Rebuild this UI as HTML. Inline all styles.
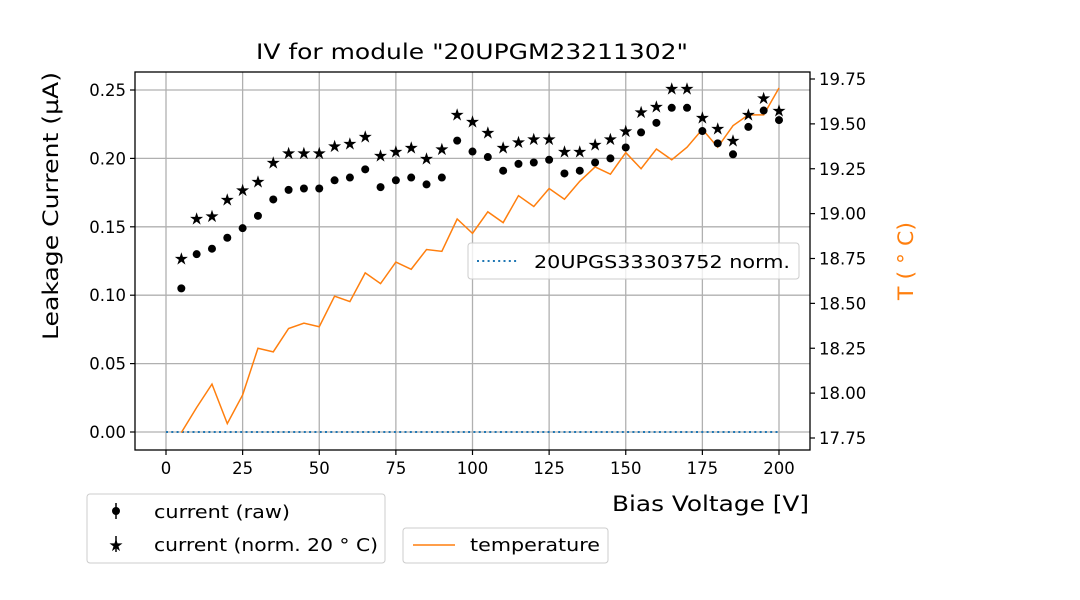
<!DOCTYPE html>
<html><head><meta charset="utf-8"><style>
body{margin:0;background:#fff;}
svg{display:block;font-family:"DejaVu Sans","Liberation Sans",sans-serif;}
</style></head><body>
<svg id="chart" width="1080" height="600" viewBox="0 0 1080 600">
<rect width="1080" height="600" fill="#fff"/>
<g id="grid"></g>
<g id="marks"></g>
<rect x="135" y="72" width="675" height="378" fill="none" stroke="#000" stroke-width="1.3"/>
<g id="axes"></g>
<text x="472" y="59" font-size="21" text-anchor="middle" textLength="432" lengthAdjust="spacingAndGlyphs">IV for module "20UPGM23211302"</text>
<text x="0" y="0" font-size="21" text-anchor="middle" textLength="268" lengthAdjust="spacingAndGlyphs" transform="translate(58,206) rotate(-90)">Leakage Current (µA)</text>
<text x="0" y="0" font-size="21" fill="#ff7f0e" text-anchor="middle" textLength="78" lengthAdjust="spacingAndGlyphs" transform="translate(913,261) rotate(-90)">T ( ° C)</text>
<text x="612" y="511" font-size="21" textLength="197" lengthAdjust="spacingAndGlyphs">Bias Voltage [V]</text>
<g>
<rect x="468" y="243" width="331" height="36" rx="3" fill="#fff" fill-opacity="0.8" stroke="#ccc"/>
<line x1="477" y1="261" x2="519" y2="261" stroke="#1f77b4" stroke-width="2" stroke-dasharray="2,3.3"/>
<text x="534" y="268" font-size="18" textLength="256" lengthAdjust="spacingAndGlyphs">20UPGS33303752 norm.</text>
</g>
<g>
<rect x="87" y="494" width="298" height="69" rx="3" fill="#fff" stroke="#ccc"/>
<line x1="116" y1="503" x2="116" y2="519" stroke="#000" stroke-width="1.5"/>
<circle cx="116" cy="511" r="4" fill="#000"/>
<text x="154" y="518" font-size="18" textLength="136" lengthAdjust="spacingAndGlyphs">current (raw)</text>
<line x1="116" y1="536" x2="116" y2="552" stroke="#000" stroke-width="1.5"/>
<text x="116" y="551" font-size="17" text-anchor="middle">★</text>
<text x="154" y="551" font-size="18" textLength="224" lengthAdjust="spacingAndGlyphs">current (norm. 20 ° C)</text>
</g>
<g>
<rect x="403" y="528" width="205" height="35" rx="3" fill="#fff" stroke="#ccc"/>
<line x1="413" y1="545" x2="455" y2="545" stroke="#ff7f0e" stroke-width="1.5"/>
<text x="470" y="551" font-size="18" textLength="130" lengthAdjust="spacingAndGlyphs">temperature</text>
</g>
</svg>
<script>
const voltages=[5,10,15,20,25,30,35,40,45,50,55,60,65,70,75,80,85,90,95,100,105,110,115,120,125,130,135,140,145,150,155,160,165,170,175,180,185,190,195,200];
const currentRaw=[0.105,0.130,0.134,0.142,0.149,0.158,0.170,0.177,0.178,0.178,0.184,0.186,0.192,0.179,0.184,0.186,0.181,0.186,0.213,0.205,0.201,0.191,0.196,0.197,0.199,0.189,0.191,0.197,0.200,0.208,0.219,0.226,0.237,0.237,0.220,0.211,0.203,0.223,0.235,0.228];
const currentNorm=[0.127,0.156,0.158,0.170,0.177,0.183,0.197,0.204,0.204,0.204,0.209,0.211,0.216,0.202,0.205,0.208,0.200,0.207,0.232,0.227,0.219,0.208,0.212,0.214,0.214,0.205,0.205,0.210,0.214,0.220,0.234,0.238,0.251,0.251,0.230,0.222,0.213,0.232,0.244,0.235];
const temperature=[17.78,17.92,18.05,17.83,17.99,18.25,18.23,18.36,18.39,18.37,18.54,18.51,18.67,18.61,18.73,18.69,18.80,18.79,18.97,18.89,19.01,18.95,19.10,19.04,19.14,19.08,19.18,19.26,19.22,19.34,19.25,19.36,19.30,19.37,19.47,19.37,19.49,19.55,19.55,19.70];
const refX=[0,200];
const refY=[0,0];
const xTicks=[0,25,50,75,100,125,150,175,200];
const yTicks=[0.00,0.05,0.10,0.15,0.20,0.25];
const y2Ticks=[17.75,18.00,18.25,18.50,18.75,19.00,19.25,19.50,19.75];

const NS="http://www.w3.org/2000/svg";
const X=v=>166+v*(779-166)/200;
const Y=v=>432-v*(432-90)/0.25;
const Y2=v=>438-(v-17.75)*(438-79)/2;
function mk(tag,attrs,parent){const e=document.createElementNS(NS,tag);for(const k in attrs)e.setAttribute(k,attrs[k]);parent.appendChild(e);return e;}
const grid=document.getElementById('grid'),marks=document.getElementById('marks'),axes=document.getElementById('axes');
xTicks.forEach(t=>{
  const l=mk('line',{x1:X(t),x2:X(t),y1:72,y2:450,stroke:'#b0b0b0','stroke-width':1.3},grid);
  
  
  mk('line',{x1:X(t),x2:X(t),y1:450,y2:455,stroke:'#000','stroke-width':1.2},axes);
  const tx=mk('text',{x:X(t),y:474,'font-size':16.5,'text-anchor':'middle'},axes);tx.textContent=t;
  
  
});
yTicks.forEach(t=>{
  const l=mk('line',{x1:135,x2:810,y1:Y(t),y2:Y(t),stroke:'#b0b0b0','stroke-width':1.3},grid);
  
  
  mk('line',{x1:130,x2:135,y1:Y(t),y2:Y(t),stroke:'#000','stroke-width':1.2},axes);
  const tx=mk('text',{x:126,y:Y(t)+6,'font-size':16.5,'text-anchor':'end'},axes);tx.textContent=t.toFixed(2);
  
  
});
y2Ticks.forEach(t=>{
  mk('line',{x1:810,x2:815,y1:Y2(t),y2:Y2(t),stroke:'#000','stroke-width':1.2},axes);
  const tx=mk('text',{x:819,y:Y2(t)+6,'font-size':16.5},axes);tx.textContent=t.toFixed(2);
  
  
});
const ref=mk('line',{x1:X(refX[0]),x2:X(refX[1]),y1:Y(refY[0]),y2:Y(refY[1]),stroke:'#1f77b4','stroke-width':2,'stroke-dasharray':'2,3.3'},marks);


const tl=mk('polyline',{points:voltages.map((v,i)=>X(v)+','+Y2(temperature[i])).join(' '),fill:'none',stroke:'#ff7f0e','stroke-width':1.5},marks);


voltages.forEach((v,i)=>{
  const c=mk('circle',{cx:X(v),cy:Y(currentRaw[i]),r:4,fill:'#000'},marks);
  
  
  const s=mk('text',{x:X(v),y:Y(currentNorm[i])+6,'font-size':17,'text-anchor':'middle'},marks);
  s.textContent='★';
  
  
});
</script>
</body></html>
